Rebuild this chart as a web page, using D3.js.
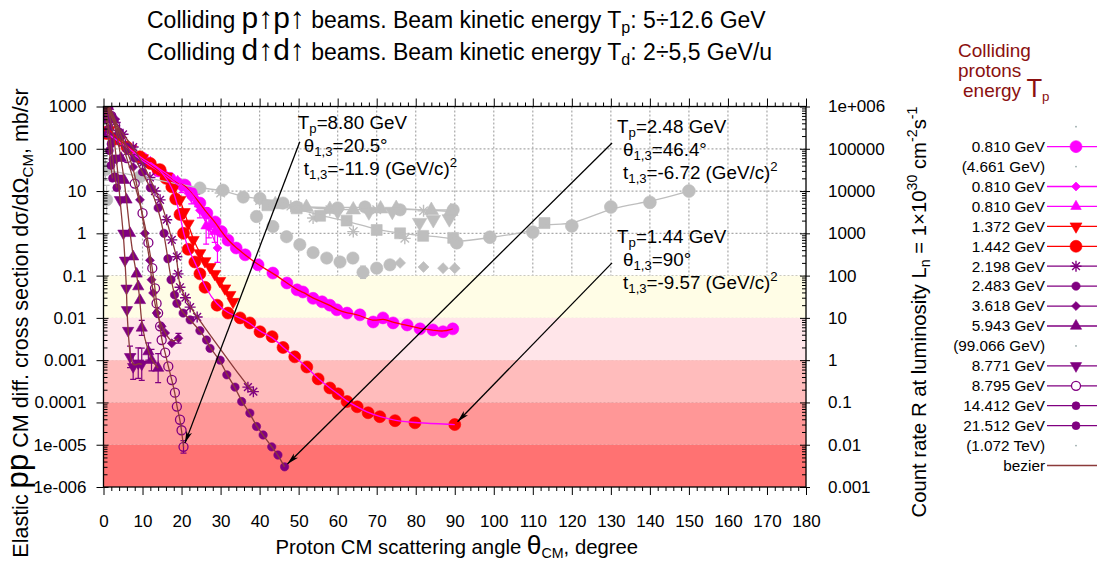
<!DOCTYPE html>
<html>
<head>
<meta charset="utf-8">
<title>Elastic pp CM cross section</title>
<script src="https://cdn.jsdelivr.net/npm/d3@7"></script>
<style>
  body { margin: 0; background: #fff; }
  svg text { font-family: "Liberation Sans", Arial, sans-serif; fill: #000; }
</style>
</head>
<body>
<div id="chart"></div>
<script>

// ---- axis ticks / labels ----
var xTicks = [0,10,20,30,40,50,60,70,80,90,100,110,120,130,140,150,160,170,180];
var yTickValues = [1000,100,10,1,0.1,0.01,0.001,1e-4,1e-5,1e-6];
var yTickLabels = ["1000","100","10","1","0.1","0.01","0.001","0.0001","1e-005","1e-006"];
var rateTickValues = [1e6,1e5,1e4,1000,100,10,1,0.1,0.01,0.001];
var rateTickLabels = ["1e+006","100000","10000","1000","100","10","1","0.1","0.01","0.001"];

// count-rate bands (mb/sr edges) and their fills
var bandEdges = [0.1, 0.01, 0.001, 1e-4, 1e-5, 1e-6];
var bandColors = ["#fffde6", "#ffe5e9", "#ffbcbc", "#ff9797", "#ff7272"];

// ---- data: [theta CM (deg), dsigma/dOmega (mb/sr), error factor (optional)] ----
var grayCircUp = [[0.5,32,1.8],[9.4,22],[20.4,14],[24.7,11.8],[30.6,10.5],[35.8,7.2],[40.1,6.7],[46,5.2],[49.5,4.2],[60,4.0],[67,4.2],[76,3.6],[89.6,3.6]];
var grayTriUp = [[44,4.8],[52,4.1],[58,3.7],[64,3.6],[71,3.8],[75,3.9],[84,3.5],[89,3.3]];
var grayAster = [[30,9],[40,6],[48,4.4],[53.7,2.3],[58,3.6],[64,1.1],[70,3.6],[77.2,0.76],[82,3.4]];
var grayTriDown = [[60,3.3],[68,3.2],[74,3.3],[81,1.8],[84.5,2.1],[88.6,2.2]];
var graySq = [[42,4.6],[49.5,3.9],[55.5,2.6],[62.3,2.0],[70,1.2],[76,1.0],[81.9,0.87],[89.6,0.78],[113,1.75]];
var grayFar = [[90.5,0.6],[99,0.81],[110,1.07],[120,1.5],[130,4.2],[140,5.4],[150,10]];
var grayCircLow = [[0.8,6.2,2.2],[39.2,2.5],[43.4,1.45],[46.9,0.83],[50.3,0.54],[53.7,0.35],[57.2,0.26],[60.6,0.21],[63.9,0.26,1.3],[66.5,0.12,1.4],[70,0.15,1.3],[73.4,0.18]];
var grayDiam = [[76,0.2],[82,0.16],[87,0.15],[90,0.15]];

var mag0810circ = [[10,60],[14,30],[17,20],[18.8,15.5],[20.9,13.8],[22.5,9],[24.7,5.2],[26.5,3],[28.6,1.86],[30.2,1.1],[31.9,0.69],[34,0.45],[36.3,0.31],[39.6,0.18],[43.4,0.115],[47,0.067],[49.6,0.046],[51.1,0.041],[53.7,0.029],[56,0.024],[58,0.02],[59.8,0.0155],[62.4,0.013],[65.7,0.0118],[69.1,0.008],[71.6,0.01],[74.2,0.0076],[77.8,0.0068],[81.1,0.0055],[84.4,0.0052],[87,0.0047],[89.5,0.0055]];
var mag0810diam = [[8,70],[11,45],[14,30],[17,20],[20,12,1.3],[22.5,7,1.4],[24.7,3.5,1.5],[27,1.4,1.8],[29.2,0.45,2.2]];
var mag0810tri = [[12,48],[15.5,28],[19,17],[22,10,1.3],[24,6,1.4],[26.3,1.5,2.7],[28.5,1.1,1.8]];

var red1372 = [[1.5,280],[4,160],[7,100],[10,60],[13,36],[16.2,22],[18,12],[19.6,6.2],[20.7,3.2],[21.7,1.7],[23,0.7],[24.7,0.34],[26,0.22],[27.3,0.16],[28.5,0.11],[29.8,0.075],[31.1,0.05],[32.4,0.035],[33.2,0.024]];
var red1442 = [[0.8,230],[3,170],[6,110],[9.3,65],[12,45],[14.5,32],[16,20],[17.5,12.6],[18.5,6.5],[19.6,2.8],[20.5,1.0],[21.7,0.42],[23.4,0.21],[24.7,0.11],[26,0.053],[29.1,0.02],[31.9,0.013],[35,0.01],[37.5,0.0076],[40.1,0.0047],[43.2,0.0036],[46,0.002],[49,0.0012],[52.1,0.00069],[55,0.00036],[58,0.00022],[60.1,0.00016],[62.4,0.000105],[65,7.9e-5],[67.8,5.7e-5],[70.8,4.6e-5],[74.7,3.7e-5],[79.8,3.3e-5],[90,3.0e-5]];

var p2198 = [[1,1000],[3,420],[5,220],[7.6,110],[10,45],[11.9,21],[13.2,10],[14.5,6.2],[16.2,2.1],[17.5,0.7],[18.8,0.28],[19.1,0.11],[19.6,0.053],[21,0.03],[22.2,0.018],[24,0.0105],[37,2.3e-4],[38.4,1.8e-4]];
var p2483 = [[0.8,1000],[2,600],[4,250],[6,110],[8,60],[10,28],[12,12],[14,4],[15.5,1.0],[16.5,0.25],[17.3,0.08],[18.2,0.035],[18.8,0.022],[20.4,0.013],[22.2,0.009],[24.7,0.005],[26.4,0.003],[27.3,0.0019],[29.9,0.001],[31.6,4.5e-4],[33.7,2.3e-4],[35.4,1.05e-4],[37.5,5.6e-5],[39.2,2.7e-5],[40.9,1.7e-5],[43.1,8.9e-6],[44.7,5.7e-6],[46.4,3.0e-6]];
var p3618 = [[1.5,1000],[3,500],[4.5,200],[6,90],[7.6,37],[9.35,6.2],[10.6,1.0],[11.9,0.23],[12.3,0.08],[12.7,0.039],[13.6,0.013],[14.9,0.0063],[15.8,0.0044],[17.5,0.0025],[19.2,0.0033,1.3]];
var p5943 = [[1.2,1000],[2.5,500],[3.5,200],[4.5,60],[5.3,18],[5.9,6.2],[6.8,1.0],[7.6,0.28],[8.5,0.11],[8.9,0.055],[9.35,0.026],[9.8,0.0058,1.5],[11.5,0.0016,1.6],[12.3,0.001,1.8],[14,6.5e-4,2.2]];
var p8771 = [[0.8,1000],[1.8,500],[2.6,200],[3.3,60],[3.8,20],[4.2,6.2],[5.1,1.0],[5.5,0.23],[5.9,0.05],[6.0,0.0155],[6.3,0.005],[6.8,0.0012,1.8],[7.6,7e-4,2],[8.9,8.5e-4,2.3],[9.8,8e-4,2.4]];
var p8795 = [[1,900],[2,600],[3,350],[4.5,150],[6,60],[8,15],[10,3],[11.5,0.6],[12.5,0.15],[13.2,0.05],[13.6,0.022],[14,0.013],[14.5,0.0063],[14.9,0.003],[15.8,0.0015],[16.6,7.1e-4],[17.5,3.4e-4],[18.3,1.7e-4],[18.8,8e-5],[19.6,3.9e-5],[20,2.2e-5],[20.5,8.9e-6,1.4]];
var p14412 = [[0.4,1000],[0.9,600],[1.4,300],[1.9,130],[2.4,55],[2.9,22],[3.4,12]];
var p21512 = [[0.3,900],[0.7,500],[1.1,220],[1.5,90],[1.9,40],[2.3,20]];

// legend rows, top to bottom
var legendLabels = ["", "0.810 GeV", "(4.661 GeV)", "0.810 GeV", "0.810 GeV", "1.372 GeV", "1.442 GeV", "2.198 GeV", "2.483 GeV", "3.618 GeV", "5.943 GeV", "(99.066 GeV)", "8.771 GeV", "8.795 GeV", "14.412 GeV", "21.512 GeV", "(1.072 TeV)", "bezier"];
var legendKeys = ["dot", "mag0810circ", "dot", "mag0810diam", "mag0810tri", "red1372", "red1442", "p2198", "p2483", "p3618", "p5943", "dot", "p8771", "p8795", "p14412", "p21512", "dot", "bezier"];

// arrows: [theta, value] start -> [theta, value] end, with label lines
var annotations = [
  { at: [49.8, 294], from: [50.3, 147], to: [20.5, 8.9e-6],
    lines: [["T", {t:"p", sub:true}, "=8.80 GeV"], ["θ", {t:"1,3", sub:true}, "=20.5°"], ["t", {t:"1,3", sub:true}, "=-11.9 (GeV/c)", {t:"2", sup:true}]] },
  { at: [131.6, 236], from: [130.3, 137], to: [46.4, 3.0e-6],
    lines: [["T", {t:"p", sub:true}, "=2.48 GeV"], ["θ", {t:"1,3", sub:true}, "=46.4°"], ["t", {t:"1,3", sub:true}, "=-6.72 (GeV/c)", {t:"2", sup:true}]] },
  { at: [131.6, 0.59], from: [130.3, 0.2], to: [90, 3.0e-5],
    lines: [["T", {t:"p", sub:true}, "=1.44 GeV"], ["θ", {t:"1,3", sub:true}, "=90°"], ["t", {t:"1,3", sub:true}, "=-9.57 (GeV/c)", {t:"2", sup:true}]] }
];

var grey = "#bebebe", magenta = "#ff00ff", red = "#ff0000", purple = "#800080", bezierColor = "#8b3a3a";

// plot styles (drawn in this order)
var seriesStyle = {
  grayCircUp:  { data: grayCircUp,  shape: "circle",  size: 120, color: grey },
  grayTriUp:   { data: grayTriUp,   shape: "triangle", size: 90, color: grey },
  grayAster:   { data: grayAster,   shape: "asterisk", size: 6, color: grey },
  grayTriDown: { data: grayTriDown, shape: "triangleDown", size: 90, color: grey },
  graySq:      { data: graySq,      shape: "square", size: 120, color: grey },
  grayFar:     { data: grayFar,     shape: "circle", size: 130, color: grey },
  grayCircLow: { data: grayCircLow, shape: "circle", size: 120, color: grey },
  grayDiam:    { data: grayDiam,    shape: "diamond", size: 60, color: grey },
  mag0810circ: { data: mag0810circ, shape: "circle", size: 113, color: magenta, line: red },
  mag0810diam: { data: mag0810diam, shape: "diamond", size: 40, color: magenta, line: magenta },
  mag0810tri:  { data: mag0810tri,  shape: "triangle", size: 48, color: magenta, line: magenta },
  red1372:     { data: red1372, shape: "triangleDown", size: 62, color: red, line: red },
  red1442:     { data: red1442, shape: "circle", size: 113, color: red, line: magenta },
  p2198:  { data: p2198,  shape: "asterisk", size: 5.5, color: purple, line: bezierColor },
  p2483:  { data: p2483,  shape: "circle", size: 55, color: purple, line: bezierColor },
  p3618:  { data: p3618,  shape: "diamond", size: 40, color: purple, line: bezierColor },
  p5943:  { data: p5943,  shape: "triangle", size: 55, color: purple, line: bezierColor },
  p8771:  { data: p8771,  shape: "triangleDown", size: 55, color: purple, line: bezierColor },
  p8795:  { data: p8795,  shape: "openCircle", size: 64, color: purple, line: bezierColor },
  p14412: { data: p14412, shape: "circle", size: 50, color: purple, line: bezierColor },
  p21512: { data: p21512, shape: "circle", size: 50, color: purple, line: bezierColor }
};

var W = 1102, H = 563;
var margin = { top: 106.5, right: 296, bottom: 76, left: 103.5 };
var width = W - margin.left - margin.right,
    height = H - margin.top - margin.bottom;

var svg = d3.select("#chart").append("svg")
    .attr("width", W)
    .attr("height", H);

var g = svg.append("g")
    .attr("transform", "translate(" + margin.left + "," + margin.top + ")");

var x = d3.scaleLinear().domain([0, 180]).range([0, width]);
var y = d3.scaleLog().domain([1e-6, 1000]).range([height, 0]);
var yRate = d3.scaleLog().domain([1e-3, 1e6]).range([height, 0]);

svg.append("defs").append("clipPath").attr("id", "plotclip")
  .append("rect").attr("width", width).attr("height", height);

svg.select("defs").append("marker")
    .attr("id", "arrowhead")
    .attr("viewBox", "0 0 12 8")
    .attr("refX", 12).attr("refY", 4)
    .attr("markerWidth", 12).attr("markerHeight", 8)
    .attr("markerUnits", "userSpaceOnUse")
    .attr("orient", "auto")
  .append("path").attr("d", "M0,1L12,4L0,7L3,4z").attr("fill", "#000");

// text with sub/superscripts
function richText(text, parts, fs) {
  var shift = 0;
  parts.forEach(function(p) {
    var s = (typeof p === "string") ? { t: p } : p;
    var target = s.sub ? fs * 0.22 : (s.sup ? -fs * 0.42 : 0);
    var size = (s.sub || s.sup) ? fs * 0.7 : (s.k ? fs * s.k : fs);
    text.append("tspan")
        .attr("font-size", size)
        .attr("dy", target - shift)
        .text(s.t);
    shift = target;
  });
}

// grid (under the bands)
var grid = g.append("g").attr("stroke", "#a8a8a8").attr("stroke-width", 1.2).attr("stroke-dasharray", "2,2");
grid.selectAll("line.v").data(xTicks.slice(1, -1)).join("line")
    .attr("class", "v")
    .attr("x1", function(d) { return x(d); }).attr("x2", function(d) { return x(d); })
    .attr("y1", 0).attr("y2", height);
grid.selectAll("line.h").data(yTickValues.slice(1, -1)).join("line")
    .attr("class", "h")
    .attr("x1", 0).attr("x2", width)
    .attr("y1", function(d) { return y(d); }).attr("y2", function(d) { return y(d); });

// bands
g.selectAll("rect.band").data(bandColors).join("rect")
    .attr("class", "band")
    .attr("x", 0).attr("width", width)
    .attr("y", function(d, i) { return y(bandEdges[i]); })
    .attr("height", function(d, i) { return y(bandEdges[i + 1]) - y(bandEdges[i]); })
    .attr("fill", function(d) { return d; });

// markers
function markerPath(shape, size) {
  if (shape === "asterisk") {
    var r = size, a = r * 0.707;
    return "M" + (-r) + ",0H" + r + "M0," + (-r) + "V" + r +
           "M" + (-a) + "," + (-a) + "L" + a + "," + a + "M" + (-a) + "," + a + "L" + a + "," + (-a);
  }
  var type = { circle: d3.symbolCircle, openCircle: d3.symbolCircle, square: d3.symbolSquare,
               diamond: d3.symbolSquare, triangle: d3.symbolTriangle, triangleDown: d3.symbolTriangle }[shape];
  return d3.symbol().type(type).size(size)();
}
function markerRotate(shape) {
  return shape === "diamond" ? " rotate(45)" : (shape === "triangleDown" ? " rotate(180)" : "");
}
function markerFill(st, bg) {
  return (st.shape === "asterisk" || st.shape === "openCircle") ? bg : st.color;
}
function markerStroke(st) {
  return st.shape === "asterisk" ? 1.4 : (st.shape === "openCircle" ? 1.3 : 0.6);
}

var plot = g.append("g").attr("clip-path", "url(#plotclip)");
var line = d3.line()
    .curve(d3.curveBasis)
    .x(function(d) { return x(d[0]); })
    .y(function(d) { return y(d[1]); });

Object.keys(seriesStyle).forEach(function(key) {
  var st = seriesStyle[key];
  var sg = plot.append("g").attr("class", "series " + key);
  // error bars
  sg.selectAll("g.err").data(st.data.filter(function(d) { return d[2]; })).join("g")
      .attr("class", "err")
      .attr("stroke", st.color).attr("stroke-width", 1.2)
      .each(function(d) {
        var e = d3.select(this), cx = x(d[0]), lo = y(d[1] / d[2]), hi = y(d[1] * d[2]);
        e.append("line").attr("x1", cx).attr("x2", cx).attr("y1", lo).attr("y2", hi);
        e.append("line").attr("x1", cx - 3).attr("x2", cx + 3).attr("y1", lo).attr("y2", lo);
        e.append("line").attr("x1", cx - 3).attr("x2", cx + 3).attr("y1", hi).attr("y2", hi);
      });
  sg.selectAll("path.pt").data(st.data).join("path")
      .attr("class", "pt")
      .attr("d", markerPath(st.shape, st.size))
      .attr("transform", function(d) { return "translate(" + x(d[0]) + "," + y(d[1]) + ")" + markerRotate(st.shape); })
      .attr("fill", markerFill(st, "none"))
      .attr("stroke", st.color)
      .attr("stroke-width", markerStroke(st));
});

// bezier curves on top
var lineLayer = plot.append("g").attr("fill", "none").attr("stroke-width", 1.3);
lineLayer.append("path").datum(grayCircUp).attr("d", line).attr("stroke", grey);
lineLayer.append("path").datum(grayTriUp).attr("d", line).attr("stroke", grey);
lineLayer.append("path")
    .datum(graySq.concat(grayFar).sort(function(a, b) { return a[0] - b[0]; }))
    .attr("d", line).attr("stroke", grey);
Object.keys(seriesStyle).forEach(function(key) {
  var st = seriesStyle[key];
  if (!st.line) return;
  lineLayer.append("path").datum(st.data).attr("d", line).attr("stroke", st.line);
});

// axes
function styleAxis(sel) {
  sel.attr("font-size", 17).attr("font-family", "Liberation Sans, Arial, sans-serif");
  sel.selectAll("line").attr("stroke", "#000");
  sel.selectAll(".domain").remove();
}
var yMinor = [];
yTickValues.slice(1).forEach(function(dec) { for (var k = 2; k <= 9; k++) yMinor.push(dec * k); });
var rateMinor = yMinor.map(function(d) { return d * 1000; });
var xMinor = d3.range(0, 181, 2).filter(function(d) { return d % 10 !== 0; });

g.append("g").call(d3.axisLeft(y).tickValues(yTickValues)
    .tickFormat(function(d, i) { return yTickLabels[i]; }).tickSize(7).tickPadding(10)).call(styleAxis);
g.append("g").call(d3.axisLeft(y).tickValues(yTickValues).tickSize(-5).tickFormat("")).call(styleAxis);
g.append("g").call(d3.axisLeft(y).tickValues(yMinor).tickSize(-4).tickFormat("")).call(styleAxis);

var right = g.append("g").attr("transform", "translate(" + width + ",0)");
right.append("g").call(d3.axisRight(yRate).tickValues(rateTickValues)
    .tickFormat(function(d, i) { return rateTickLabels[i]; }).tickSize(4).tickPadding(18)).call(styleAxis);
right.append("g").call(d3.axisRight(yRate).tickValues(rateTickValues).tickSize(-6).tickFormat("")).call(styleAxis);
right.append("g").call(d3.axisRight(yRate).tickValues(rateMinor).tickSize(-4).tickFormat("")).call(styleAxis);

var bottom = g.append("g").attr("transform", "translate(0," + height + ")");
bottom.append("g").call(d3.axisBottom(x).tickValues(xTicks).tickSize(8).tickPadding(20)).call(styleAxis);
bottom.append("g").call(d3.axisBottom(x).tickValues(xMinor).tickSize(4).tickFormat("")).call(styleAxis);
g.append("g").call(d3.axisTop(x).tickValues(xTicks).tickSize(8).tickFormat("")).call(styleAxis);
g.append("g").call(d3.axisTop(x).tickValues(xMinor).tickSize(4).tickFormat("")).call(styleAxis);

g.append("rect")
    .attr("width", width).attr("height", height)
    .attr("fill", "none").attr("stroke", "#000").attr("stroke-width", 1.3);

// annotations
var ann = g.append("g");
annotations.forEach(function(a) {
  var p0 = [x(a.from[0]), y(a.from[1])], p1 = [x(a.to[0]), y(a.to[1])];
  var dx = p1[0] - p0[0], dy = p1[1] - p0[1], len = Math.sqrt(dx * dx + dy * dy);
  ann.append("line")
      .attr("x1", p0[0]).attr("y1", p0[1])
      .attr("x2", p1[0] - dx / len * 4).attr("y2", p1[1] - dy / len * 4)
      .attr("stroke", "#000").attr("stroke-width", 1.3)
      .attr("marker-end", "url(#arrowhead)");
  a.lines.forEach(function(parts, i) {
    var t = ann.append("text")
        .attr("x", x(a.at[0]) + (i ? 6 : 0))
        .attr("y", y(a.at[1]) + i * 23);
    richText(t, parts, 18.8);
  });
});

// titles
var t1 = svg.append("text").attr("x", 147).attr("y", 28);
richText(t1, ["Colliding ", {t:"p↑p↑", k:1.3}, " beams. Beam kinetic energy T", {t:"p", sub:true}, ": 5÷12.6 GeV"], 23);
var t2 = svg.append("text").attr("x", 147).attr("y", 60);
richText(t2, ["Colliding ", {t:"d↑d↑", k:1.3}, " beams. Beam kinetic energy T", {t:"d", sub:true}, ": 2÷5,5 GeV/u"], 23);

var xl = svg.append("text").attr("x", margin.left + width / 2 + 2).attr("y", 554).attr("text-anchor", "middle");
richText(xl, ["Proton CM scattering angle ", {t:"θ", k:1.3}, {t:"CM", sub:true}, ", degree"], 20.3);

var yl = svg.append("text").attr("transform", "translate(28,323) rotate(-90)").attr("text-anchor", "middle");
richText(yl, ["Elastic ", {t:"pp", k:1.45}, " CM diff. cross section d", "σ", "/d", "Ω", {t:"CM", sub:true}, ", mb/sr"], 21.5);

var yr = svg.append("text").attr("transform", "translate(926,312) rotate(-90)").attr("text-anchor", "middle");
richText(yr, ["Count rate R at luminosity L", {t:"n", sub:true}, " = 1×10", {t:"30", sup:true}, " cm", {t:"-2", sup:true}, "s", {t:"-1", sup:true}], 20.3);

// legend
var legTitle = svg.append("g");
["Colliding", "protons"].forEach(function(s, i) {
  legTitle.append("text").attr("x", 958).attr("y", 57 + i * 20).attr("font-size", 19).style("fill", "#8b1010").text(s);
});
var lt = legTitle.append("text").attr("x", 963).attr("y", 97);
richText(lt, ["energy ", {t:"T", k:1.35}, {t:"p", sub:true, k:1.2}], 19);
lt.selectAll("tspan").style("fill", "#8b1010");

var legend = svg.append("g");
var rows = legend.selectAll("g.row").data(legendLabels).join("g")
    .attr("class", "row")
    .attr("transform", function(d, i) { return "translate(0," + (126.7 + i * 19.93) + ")"; });
rows.append("text")
    .attr("x", 1045).attr("dy", "0.35em").attr("text-anchor", "end").attr("font-size", 15.3)
    .text(function(d) { return d; });
rows.each(function(d, i) {
  var row = d3.select(this), key = legendKeys[i];
  if (key === "dot") {
    row.append("circle").attr("cx", 1076).attr("cy", 0).attr("r", 0.9).attr("fill", "#9aa");
    return;
  }
  if (key === "bezier") {
    row.append("line").attr("x1", 1047).attr("x2", 1097).attr("stroke", bezierColor).attr("stroke-width", 1.6);
    return;
  }
  var st = seriesStyle[key];
  row.append("line").attr("x1", 1047).attr("x2", 1097).attr("stroke", st.color).attr("stroke-width", 1.3);
  row.append("path")
      .attr("d", markerPath(st.shape, st.size))
      .attr("transform", "translate(1076,0)" + markerRotate(st.shape))
      .attr("fill", markerFill(st, "#fff"))
      .attr("stroke", st.color)
      .attr("stroke-width", markerStroke(st));
});

</script>
</body>
</html>
